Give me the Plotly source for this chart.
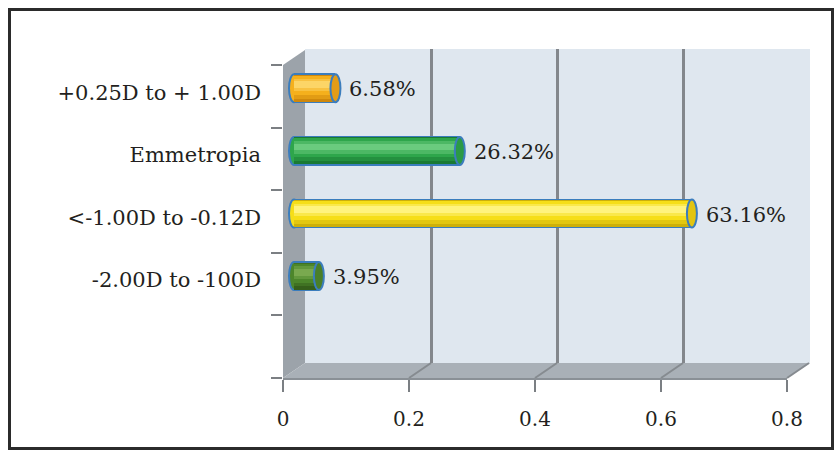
import plotly.graph_objects as go

# ---- data -------------------------------------------------------------
categories = ["+0.25D to + 1.00D", "Emmetropia", "<-1.00D to -0.12D", "-2.00D to -100D", ""]
shares = [0.0658, 0.2632, 0.6316, 0.0395]
x_ticks = [0, 0.2, 0.4, 0.6, 0.8]

# ---- styling ------------------------------------------------------------
FONT = "DejaVu Serif"
TEXT_COLOR = "#231f20"
OUTLINE = "#3b7dbd"
# (dark lower band, main body, highlight stripe, end face)
PALETTE = [
    ("#cf880c", "#f5b01c", "#fcd567", "#e39c16"),
    ("#1a7a33", "#2ea64b", "#6acb7e", "#2b9a45"),
    ("#cdb00a", "#f6de18", "#fff37e", "#e2c410"),
    ("#355f1b", "#4c862b", "#79a94f", "#4a7f29"),
]

W, H = 840, 456
FRONT_L, FRONT_R, FRONT_T, FRONT_B = 283, 787, 65, 378   # front plane box (px)
DEPTH_X, DEPTH_Y = 22, 15                                # 3-D depth offset (px)
BAR_DX, BAR_DY = 11, 8                                   # bars sit inside the depth
X_MAX = 0.8
N_SLOTS = len(categories)
PX_PER_UNIT = (FRONT_R - FRONT_L) / X_MAX
SLOT_PX = (FRONT_B - FRONT_T) / N_SLOTS


def fx(p):
    return p / W


def fy(p):
    return 1 - p / H


def mix(c1, c2, t):
    a = [int(c1[k:k + 2], 16) for k in (1, 3, 5)]
    b = [int(c2[k:k + 2], 16) for k in (1, 3, 5)]
    return "#" + "".join(f"{round(p + (q - p) * t):02x}" for p, q in zip(a, b))


slot_y = [N_SLOTS - i - 0.5 for i in range(N_SLOTS)]
bar_y = slot_y[:len(shares)]

fig = go.Figure()

# invisible traces so each axis pair is laid out
for xa, ya in (("x", "y"), ("x2", "y2")):
    fig.add_trace(go.Scatter(x=[None], y=[None], xaxis=xa, yaxis=ya,
                             showlegend=False, hoverinfo="skip"))

# ---- cylinder bars (overlaid shading bands) ----------------------------
bar_px = 27
w_full = bar_px / SLOT_PX
bands = [
    # (colour picker, bottom fraction, top fraction)
    (lambda p: OUTLINE, -0.055, 1.055),
    (lambda p: p[0], 0.0, 1.0),
    (lambda p: mix(p[0], p[1], 0.5), 0.12, 0.97),
    (lambda p: p[1], 0.26, 0.96),
    (lambda p: mix(p[1], p[2], 0.5), 0.40, 0.86),
    (lambda p: p[2], 0.52, 0.76),
]
for pick, lo, hi in bands:
    colors = [pick(PALETTE[i]) for i in range(len(shares))]
    width = (hi - lo) * w_full
    offset = -w_full / 2 + lo * w_full
    fig.add_trace(go.Bar(
        x=shares, y=bar_y, orientation="h",
        width=[width] * len(shares), offset=[offset] * len(shares),
        marker=dict(color=colors, line=dict(width=0)),
        xaxis="x3", yaxis="y3", showlegend=False, hoverinfo="skip",
    ))

shapes = []

# ---- walls and floor ----------------------------------------------------
BL, BR = FRONT_L + DEPTH_X, FRONT_R + DEPTH_X + 1
BT, BB = FRONT_T - DEPTH_Y - 1, FRONT_B - DEPTH_Y


def path(points):
    return "M " + " L ".join(f"{fx(a):.5f},{fy(b):.5f}" for a, b in points) + " Z"


shapes.append(dict(type="rect", xref="paper", yref="paper", layer="below",
                   x0=fx(BL), x1=fx(BR), y0=fy(BB), y1=fy(BT),
                   fillcolor="#dfe7ef", line=dict(width=0)))
shapes.append(dict(type="path", xref="paper", yref="paper", layer="below",
                   path=path([(FRONT_L, FRONT_T), (BL, BT + 1), (BL, BB), (FRONT_L, FRONT_B)]),
                   fillcolor="#9ca3aa", line=dict(width=0)))
shapes.append(dict(type="path", xref="paper", yref="paper", layer="below",
                   path=path([(FRONT_L, FRONT_B), (BL, BB), (BR, BB), (FRONT_R, FRONT_B)]),
                   fillcolor="#a9b0b7", line=dict(width=0)))
for v in x_ticks[1:]:
    xf = FRONT_L + v * PX_PER_UNIT
    shapes.append(dict(type="line", xref="paper", yref="paper", layer="below",
                       x0=fx(xf), y0=fy(FRONT_B), x1=fx(xf + DEPTH_X), y1=fy(BB),
                       line=dict(color="#868b90", width=2)))

# ---- cylinder end caps ---------------------------------------------------
cap_rx = 5
for i, (v, yc) in enumerate(zip(shares, bar_y)):
    common = dict(type="circle", xref="x3", yref="y3",
                  xsizemode="pixel", ysizemode="pixel",
                  yanchor=yc, y0=-bar_px / 2 - 0.5, y1=bar_px / 2 + 0.5,
                  line=dict(color=OUTLINE, width=2))
    shapes.append(dict(common, layer="below", xanchor=0, x0=-cap_rx, x1=cap_rx,
                       fillcolor=PALETTE[i][1]))
    shapes.append(dict(common, layer="above", xanchor=v, x0=-cap_rx, x1=cap_rx,
                       fillcolor=PALETTE[i][3]))

# ---- outer frame ----------------------------------------------------------
shapes.append(dict(type="rect", xref="paper", yref="paper", layer="above",
                   x0=fx(9.5), x1=fx(832.5), y0=fy(448.5), y1=fy(9.5),
                   line=dict(color="#2b2b2b", width=3)))

# ---- value labels -----------------------------------------------------------
annotations = [
    dict(x=v, y=yc, xref="x3", yref="y3", text=f"{v * 100:.2f}%",
         showarrow=False, xanchor="left", yanchor="middle", xshift=12, yshift=-1,
         font=dict(family=FONT, size=21, color=TEXT_COLOR))
    for v, yc in zip(shares, bar_y)
]

# ---- axes -------------------------------------------------------------------
x3_lo, x3_hi = -0.03, 0.82
x3_origin = FRONT_L + BAR_DX

fig.update_layout(
    width=W, height=H,
    margin=dict(l=0, r=0, t=0, b=0, autoexpand=False),
    paper_bgcolor="white", plot_bgcolor="rgba(0,0,0,0)",
    barmode="overlay", bargap=0, showlegend=False,
    shapes=shapes, annotations=annotations,
    font=dict(family=FONT, size=20, color=TEXT_COLOR),
    # front plane: value ticks and slot ticks
    xaxis=dict(domain=[fx(FRONT_L), fx(FRONT_R)], range=[0, X_MAX],
               tickvals=x_ticks, ticktext=[f"{t:g}" for t in x_ticks],
               ticks="outside", ticklen=12, tickwidth=2, tickcolor="#7b7f83",
               ticklabelstandoff=10,
               showline=True, linecolor="#8a9096", linewidth=2,
               showgrid=False, zeroline=False, anchor="y", automargin=False,
               tickfont=dict(family=FONT, size=20, color=TEXT_COLOR)),
    yaxis=dict(domain=[fy(FRONT_B), fy(FRONT_T)], range=[0, N_SLOTS],
               tickvals=list(range(N_SLOTS + 1)), showticklabels=False,
               ticks="outside", ticklen=11, tickwidth=2, tickcolor="#7b7f83",
               showline=False, showgrid=False, zeroline=False, anchor="x",
               automargin=False),
    # back wall: grid lines
    xaxis2=dict(domain=[fx(BL), fx(BR)], range=[0, X_MAX], tickvals=x_ticks[1:],
                showticklabels=False, ticks="", showgrid=True,
                gridcolor="#83878c", gridwidth=3, zeroline=False,
                showline=False, anchor="y2", automargin=False),
    yaxis2=dict(domain=[fy(BB), fy(BT)], range=[0, N_SLOTS], visible=False,
                showgrid=False, anchor="x2", automargin=False),
    # bars, drawn midway into the depth
    xaxis3=dict(domain=[fx(x3_origin + x3_lo * PX_PER_UNIT), fx(x3_origin + x3_hi * PX_PER_UNIT)],
                range=[x3_lo, x3_hi], visible=False, anchor="y3", automargin=False),
    yaxis3=dict(domain=[fy(FRONT_B - BAR_DY), fy(FRONT_T - BAR_DY)], range=[0, N_SLOTS],
                tickvals=slot_y, ticktext=categories, ticks="",
                anchor="free", position=fx(FRONT_L), side="left",
                ticklabelstandoff=22, ticklabelshift=4,
                showgrid=False, zeroline=False, showline=False, automargin=False,
                tickfont=dict(family=FONT, size=21, color=TEXT_COLOR)),
)

fig.write_html("out.html")
